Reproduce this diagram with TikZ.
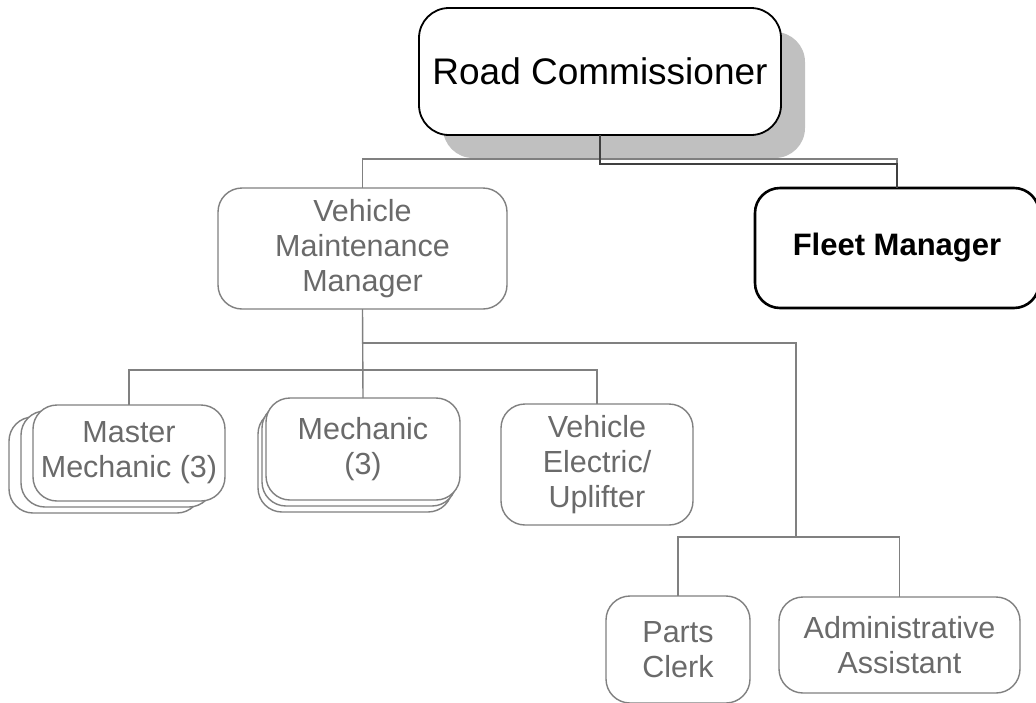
\documentclass[tikz,border=0pt]{standalone}
\usepackage{fontspec}
\setmainfont{Liberation Sans}
\begin{document}
\begin{tikzpicture}[x=1pt,y=-1pt,
  every node/.style={inner sep=0pt, outer sep=0pt},
  orgbox/.style={draw=linegray, line width=1.4pt, rounded corners=24pt, fill=white,
    text=textgray, align=center, font=\fontsize{30.5}{35}\selectfont},
  stackbox/.style={draw=linegray, line width=1.4pt, rounded corners=24pt, fill=white},
  headbox/.style={draw=black, line width=1.8pt, rounded corners=30pt, fill=white,
    align=center, font=\fontsize{37}{42}\selectfont},
  fleetbox/.style={draw=black, line width=2.6pt, rounded corners=25pt, fill=white,
    align=center, font=\fontsize{31}{36}\selectfont\bfseries},
  conn/.style={draw=linegray, line width=1.4pt},
  darkconn/.style={draw=darkline, line width=1.4pt}]
\definecolor{linegray}{HTML}{808080}
\definecolor{textgray}{HTML}{6A6A6A}
\definecolor{darkline}{HTML}{404040}
\definecolor{shadowgray}{HTML}{C0C0C0}
\useasboundingbox (0,0) rectangle (1036,702);
\clip (0,0) rectangle (1036,702);

% top of the chart: commissioner with drop shadow
\fill[shadowgray, rounded corners=30pt] (443,32) rectangle (805,158);
\node[headbox, minimum width=362pt, minimum height=127pt] (rc) at (600,71.5) {Road Commissioner};

% second level
\node[fleetbox, minimum width=284pt, minimum height=120pt] (fleet) at (897,248) {Fleet Manager};
\node[orgbox, minimum width=289pt, minimum height=121pt] (vmm) at (362.5,248.5)
  {Vehicle\\Maintenance\\Manager};

% reporting lines to the second level
\draw[conn] (vmm.north) -- ++(0,-29) -| (fleet.north);
\draw[darkconn] (rc.south) -- ++(0,29) -| (fleet.north);

% third level: stacked boxes for multiple positions
\node[stackbox, minimum width=192pt, minimum height=96pt] (mm3) at (105,465) {};
\node[stackbox, minimum width=192pt, minimum height=96pt] (mm2) at (117,459) {};
\node[orgbox, minimum width=192pt, minimum height=96pt] (mm) at (129,453)
  {Master\\Mechanic (3)};

\node[stackbox, minimum width=194pt, minimum height=102pt] (mech3) at (355,461) {};
\node[stackbox, minimum width=194pt, minimum height=102pt] (mech2) at (359,455) {};
\node[orgbox, minimum width=194pt, minimum height=102pt] (mech) at (363,449)
  {Mechanic\\(3)};

\node[orgbox, minimum width=192pt, minimum height=121pt] (vee) at (597,464.5)
  {Vehicle\\Electric/\\Uplifter};

% fourth level
\node[orgbox, minimum width=144pt, minimum height=107pt] (parts) at (678,649.5)
  {Parts\\Clerk};
\node[orgbox, minimum width=241pt, minimum height=96pt] (admin) at (899.5,645)
  {Administrative\\Assistant};

% reporting lines below the maintenance manager
\path (vmm.south) ++(0,61) coordinate (j1);
\path (vmm.south) ++(0,34) coordinate (j2);
\coordinate (j3) at (796,537);
\draw[conn] (vmm.south) -- (mech.north);
\draw[conn] (mm.north) |- (j1) -| (vee.north);
\draw[conn] (j2) -| (j3);
\draw[conn] (parts.north) |- (j3) -| (admin.north);
\end{tikzpicture}
\end{document}
